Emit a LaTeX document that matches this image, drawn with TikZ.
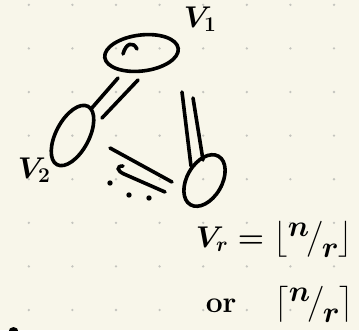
\RequirePackage{fix-cm}
\documentclass[tikz,border=0pt]{standalone}
\usepackage{amsmath,amssymb}
\usepackage{graphicx}
\usepackage{xcolor}
\usepackage{tikz}
\usetikzlibrary{shapes.geometric}
\definecolor{paper}{RGB}{248,246,234}
\definecolor{dotgray}{RGB}{196,196,190}
\newcommand{\slfrac}[2]{\raisebox{0.35em}{$#1$}\kern-0.08em\big/\kern-0.08em\raisebox{-0.35em}{$#2$}}

\begin{document}
\begin{tikzpicture}[x=1pt,y=-1pt,line width=3.6pt,line cap=round,
    vset/.style={draw,ellipse,inner sep=0pt},
    link/.style={draw,line width=3.6pt,line cap=round},
    lbl/.style={inner sep=0pt,anchor=base west,font=\fontsize{30}{34}\selectfont\boldmath}]
  \clip (0,0) rectangle (359,330);
  \fill[paper] (0,0) rectangle (359,330);
  % dot grid of the page
  \foreach \i in {0,...,7}
    \foreach \j in {0,...,7}
      \fill[dotgray] (28.8+43.6*\i,4.8+43.6*\j) circle[radius=1.3pt];

  \node[vset,minimum width=74pt,minimum height=36pt,rotate=7] (v1) at (141.5,53) {};
  \node[vset,minimum width=66pt,minimum height=33pt,rotate=62] (v2) at (72.5,135.5) {};
  \node[vset,minimum width=56pt,minimum height=35pt,rotate=60] (vr) at (204.5,180.5) {};
  \draw (123,54) .. controls (126,43) and (133,41) .. (137,49);

  \node[lbl] (l1) at (182,27) {$V_1$};
  \node[lbl] (l2) at (16,178) {$V_2$};
  \node[lbl] (lr) at (194,247) {$V_r = \big\lfloor\slfrac{n}{r}\big\rfloor$};
  \node[lbl] (lor) at (204,312) {\bfseries or\quad\;$\big\lceil\slfrac{n}{r}\big\rceil$};

  % pairs of strokes between the sets
  \coordinate (a1) at (118,78);  \coordinate (a2) at (91,109);
  \coordinate (b1) at (138,80);  \coordinate (b2) at (102,118);
  \coordinate (c1) at (182,92);  \coordinate (c2) at (191,166);
  \coordinate (d1) at (193,98);  \coordinate (d2) at (203,160);
  \coordinate (e1) at (110,148); \coordinate (e2) at (172,182);
  \coordinate (f1) at (123,166); \coordinate (f2) at (165,192);
  \draw[link] (a1) -- (a2);
  \draw[link] (b1) -- (b2);
  \draw[link] (c1) -- (c2);
  \draw[link] (d1) -- (d2);
  \draw[link] (e1) -- (e2);
  \draw[link] (f1) .. controls (116,166) and (117,171) .. (124,174) -- (f2);

  \foreach \x/\y in {110/183,129/195,149/198}
    \fill (\x,\y) circle[radius=2.7pt];
  \fill (13.5,332) circle[radius=5pt];
\end{tikzpicture}
\end{document}
